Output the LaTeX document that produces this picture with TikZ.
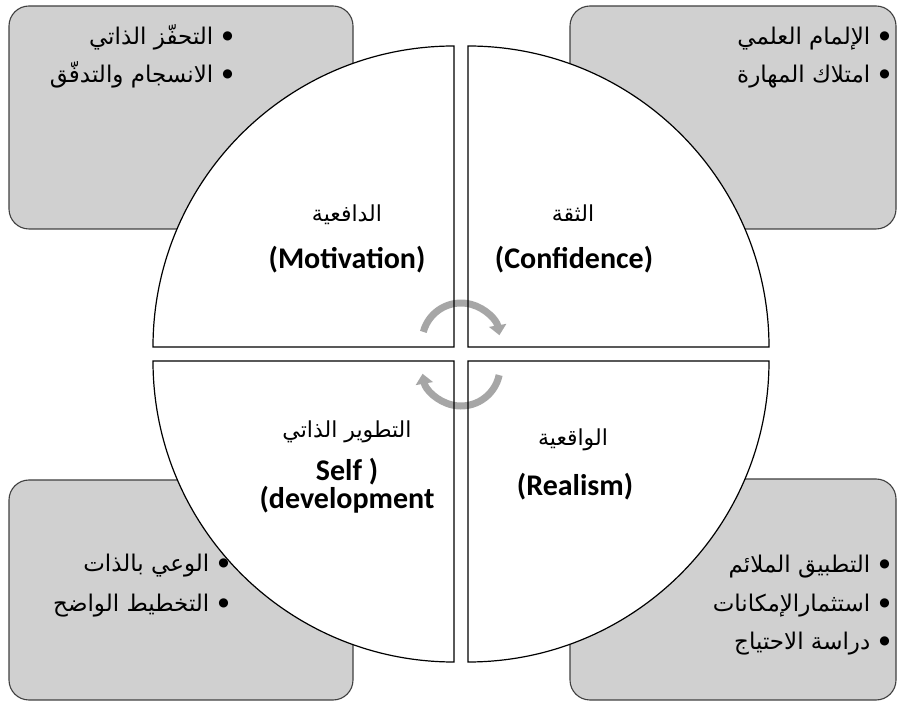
\documentclass[tikz,border=0pt]{standalone}
\usepackage{fontspec}
\setmainfont{Carlito}
\newfontfamily\arabicfont[Script=Arabic]{DejaVu Sans}
\usetikzlibrary{arrows.meta}
\TeXXeTstate=1
\definecolor{panelgray}{RGB}{208,208,208}
\definecolor{paneledge}{RGB}{64,64,64}
\definecolor{turngray}{RGB}{166,166,166}
\newcommand{\artext}[1]{{\arabicfont\beginR #1\endR}}
\newcommand{\aritem}[1]{{\arabicfont\beginR\raisebox{5pt}{\fontsize{12}{12}\selectfont ●}\hspace{9pt}#1\endR}}

\begin{document}
\begin{tikzpicture}[x=1pt, y=1pt,
  panel/.style={draw=paneledge, fill=panelgray, line width=1.1pt, rounded corners=20pt},
  quad/.style={fill=white},
  rim/.style={draw=black, line width=1.2pt},
  turn/.style={draw=turngray, line width=7pt, -{Triangle[width=17pt,length=10pt]}},
  item/.style={anchor=base east, inner sep=0pt, font=\fontsize{23}{27}\selectfont},
  arlab/.style={anchor=center, inner sep=0pt, font=\fontsize{22}{26}\selectfont},
  enlab/.style={anchor=center, inner sep=0pt, font=\fontsize{30}{35}\selectfont\bfseries}]
\useasboundingbox (0,0) rectangle (905,704);

% side panels
\draw[panel] (9,475) rectangle (353,698);
\draw[panel] (570,475) rectangle (896,698);
\draw[panel] (9,4) rectangle (353,224);
\draw[panel] (570,4) rectangle (896,225);

% four quarters of the wheel
\foreach \cx/\cy/\a in {454/357/180, 468/357/90, 468/343/0, 454/343/-90}
  \path[quad] (\cx,\cy) -- ++(\a:301) arc[start angle=\a, end angle=\a-90, radius=301] -- cycle;

% turning arrows
\draw[turn] (461,362) ++(165:39) arc[start angle=165, end angle=10, radius=39];
\draw[turn] (461,337) ++(-12:39) arc[start angle=-12, end angle=-170, radius=39];

\foreach \cx/\cy/\a in {454/357/180, 468/357/90, 468/343/0, 454/343/-90}
  \draw[rim] (\cx,\cy) -- ++(\a:301) arc[start angle=\a, end angle=\a-90, radius=301] -- cycle;

% quarter labels
\node[arlab] (motar) at (347,489) {\artext{الدافعية}};
\node[enlab] (moten) at (347,444) {(Motivation)};
\node[arlab] (confar) at (573,491) {\artext{الثقة}};
\node[enlab] (confen) at (574,444) {(Confidence)};
\node[arlab] (selfar) at (347,272) {\artext{التطوير الذاتي}};
\node[enlab] (selfen) at (347,232) {Self )};
\node[enlab] (selfdev) at (347,204) {(development};
\node[arlab] (realar) at (573,264) {\artext{الواقعية}};
\node[enlab] (realen) at (575,217) {(Realism)};

% bullet lists
\node[item] (mot1) at (233,659) {\aritem{التحفّز الذاتي}};
\node[item] (mot2) at (233,621) {\aritem{الانسجام والتدفّق}};
\node[item] (conf1) at (890,659) {\aritem{الإلمام العلمي}};
\node[item] (conf2) at (890,621) {\aritem{امتلاك المهارة}};
\node[item] (self1) at (229,132) {\aritem{الوعي بالذات}};
\node[item] (self2) at (229,92) {\aritem{التخطيط الواضح}};
\node[item] (real1) at (890,131) {\aritem{التطبيق الملائم}};
\node[item] (real2) at (890,92) {\aritem{استثمارالإمكانات}};
\node[item] (real3) at (890,54) {\aritem{دراسة الاحتياج}};

\end{tikzpicture}
\end{document}
